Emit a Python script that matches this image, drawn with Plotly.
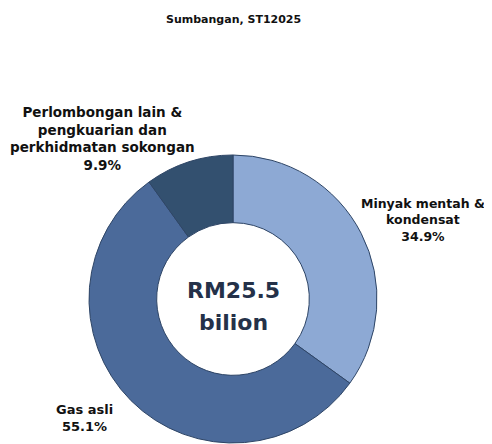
import plotly.graph_objects as go

categories = ["Minyak mentah &<br>kondensat", "Gas asli", "Perlombongan lain &<br>pengkuarian dan<br>perkhidmatan sokongan"]
shares = [34.9, 55.1, 9.9]
colors = ["#8DA9D4", "#4B6A9A", "#33506F"]
title_text = "Sumbangan, ST12025"
center_lines = ["RM25.5", "bilion"]

# page body has an 8px margin; size the figure to fit the visible window
OFF = 8
W, H = 492 - OFF, 444 - OFF
FONT = "DejaVu Sans"


def sx(px):
    return (px - OFF) / W


def sy(py):
    return 1 - (py - OFF) / H


fig = go.Figure(go.Pie(
    labels=categories,
    values=shares,
    sort=False,
    direction="clockwise",
    rotation=0,
    hole=0.53,
    textinfo="none",
    hoverinfo="label+percent",
    marker=dict(colors=colors, line=dict(color="#2E4566", width=1)),
    domain=dict(x=[sx(89), sx(377)], y=[max(0, sy(443)), sy(155)]),
    showlegend=False,
))

label_pos = [(423, 220, 12.5), (84, 418, 13), (102, 138, 13.5)]
annotations = []
for cat, val, (x, y, fs) in zip(categories, shares, label_pos):
    annotations.append(dict(
        x=sx(x), y=sy(y), xref="paper", yref="paper", showarrow=False,
        text=f"<b>{cat}<br>{val:.1f}%</b>", align="center",
        font=dict(family=FONT, size=fs, color="#111111"),
        xanchor="center", yanchor="middle",
    ))
for line, y in zip(center_lines, [290, 322]):
    annotations.append(dict(
        x=sx(233), y=sy(y), xref="paper", yref="paper", showarrow=False,
        text=f"<b>{line}</b>", align="center",
        font=dict(family=FONT, size=22, color="#243149"),
        xanchor="center", yanchor="middle",
    ))
annotations.append(dict(
    x=sx(233), y=sy(19), xref="paper", yref="paper", showarrow=False,
    text=f"<b>{title_text}</b>", align="center",
    font=dict(family=FONT, size=11, color="#111111"),
    xanchor="center", yanchor="middle",
))

fig.update_layout(
    width=W, height=H,
    margin=dict(l=0, r=0, t=0, b=0),
    paper_bgcolor="white", plot_bgcolor="white",
    annotations=annotations,
)

fig.write_html("out.html")
